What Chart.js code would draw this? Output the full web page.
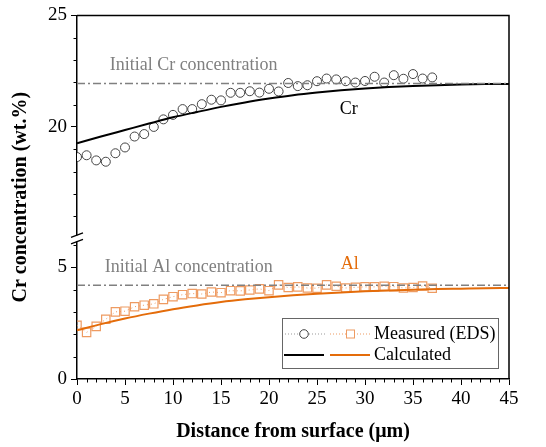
<!DOCTYPE html>
<html><head><meta charset="utf-8">
<script src="https://cdn.jsdelivr.net/npm/chart.js@4"></script>
<style>html,body{margin:0;padding:0;background:#fff}</style>
</head><body>
<canvas id="c" width="546" height="447" style="width:546px;height:447px;display:block"></canvas>
<script>
// ---- data ----
const distance = [0,1,2,3,4,5,6,7,8,9,10,11,12,13,14,15,16,17,18,19,20,21,22,23,24,25,26,27,28,29,30,31,32,33,34,35,36,37];
const crMeasured = [18.65,18.73,18.50,18.44,18.82,19.08,19.57,19.68,20.00,20.34,20.54,20.80,20.80,21.02,21.22,21.19,21.53,21.53,21.60,21.54,21.71,21.59,21.97,21.83,21.87,22.05,22.17,22.13,22.05,21.99,22.06,22.25,21.99,22.32,22.16,22.37,22.17,22.22];
const alMeasured = [2.41,2.09,2.36,2.68,3.01,3.04,3.24,3.31,3.37,3.57,3.69,3.78,3.83,3.81,3.90,3.87,3.96,3.95,3.99,4.04,3.96,4.22,4.10,4.13,4.08,4.07,4.22,4.16,4.08,4.11,4.13,4.13,4.16,4.14,4.08,4.10,4.17,4.07];
const calcDistance = [0,2.5,5,7.5,10,12.5,15,17.5,20,22.5,25,27.5,30,32.5,35,37.5,40,42.5,45];
const crCalculated = [19.27,19.57,19.86,20.15,20.43,20.67,20.90,21.10,21.27,21.42,21.54,21.64,21.72,21.79,21.84,21.87,21.90,21.92,21.93];
const alCalculated = [2.18,2.46,2.71,2.93,3.13,3.30,3.45,3.57,3.67,3.75,3.82,3.88,3.93,3.97,4.00,4.03,4.05,4.07,4.08];
const crInitial = 21.95;
const alInitial = 4.2;
const initialSpan = [0, 45];
const xTickLabels = [0,5,10,15,20,25,30,35,40,45];
const yTopTickLabels = [20,25];
const yBottomTickLabels = [0,5];
const legendLabels = ['Measured (EDS)', 'Calculated'];

// ---- styles ----
const FONT = "'Liberation Serif','Times New Roman',serif";
const ORANGE = '#E46C0A';
const ORANGE_LIGHT = '#EE9B62';
const GREY = '#808080';

const pts = (xs, ys) => xs.map((x, i) => ({x: x, y: ys[i]}));

const annotations = [
  {text: 'Initial Cr concentration', x: 3.4, y: 22.76, axis: 'yTop', color: GREY, align: 'left'},
  {text: 'Cr', x: 28.3, y: 20.8, axis: 'yTop', color: '#000', align: 'center'},
  {text: 'Initial Al concentration', x: 2.9, y: 5.0, axis: 'yBot', color: GREY, align: 'left'},
  {text: 'Al', x: 28.4, y: 5.13, axis: 'yBot', color: ORANGE, align: 'center'}
];

const decor = {
  id: 'decor',
  afterDraw(chart) {
    const ctx = chart.ctx;
    const a = chart.chartArea;
    const xs = chart.scales.x, yt = chart.scales.yTop, yb = chart.scales.yBot;
    ctx.save();
    // frame top/right
    ctx.strokeStyle = '#000'; ctx.lineWidth = 1.5;
    ctx.beginPath();
    ctx.moveTo(a.left, a.top); ctx.lineTo(a.right, a.top); ctx.lineTo(a.right, a.bottom);
    ctx.stroke();
    // minor ticks
    ctx.lineWidth = 1;
    ctx.beginPath();
    for (let v = 0; v <= 45; v++) {
      if (v % 5 === 0) continue;
      const px = Math.round(xs.getPixelForValue(v)) + 0.5;
      ctx.moveTo(px, a.bottom); ctx.lineTo(px, a.bottom + 3.5);
    }
    for (let v = 16; v < 25; v++) {
      if (v % 5 === 0) continue;
      const py = Math.round(yt.getPixelForValue(v)) + 0.5;
      ctx.moveTo(a.left - 3.5, py); ctx.lineTo(a.left, py);
    }
    for (let v = 1; v <= 6; v++) {
      if (v % 5 === 0) continue;
      const py = Math.round(yb.getPixelForValue(v)) + 0.5;
      ctx.moveTo(a.left - 3.5, py); ctx.lineTo(a.left, py);
    }
    ctx.stroke();
    // axis break
    const by = Math.min(yt.bottom, yb.bottom);
    ctx.fillStyle = '#fff';
    ctx.fillRect(a.left - 3, by - 3, 6, 6);
    ctx.strokeStyle = '#000'; ctx.lineWidth = 1.3;
    ctx.beginPath();
    ctx.moveTo(a.left - 6, by - 1); ctx.lineTo(a.left + 6, by - 5.5);
    ctx.moveTo(a.left - 6, by + 5.5); ctx.lineTo(a.left + 6, by + 1);
    ctx.stroke();
    // y title
    ctx.save();
    ctx.translate(21, (a.top + a.bottom) / 2);
    ctx.rotate(-Math.PI / 2);
    ctx.font = 'bold 20px ' + FONT;
    ctx.fillStyle = '#000'; ctx.textAlign = 'center'; ctx.textBaseline = 'middle';
    ctx.fillText('Cr concentration (wt.%)', 0, 0);
    ctx.restore();
    // annotations
    ctx.font = '18px ' + FONT; ctx.textBaseline = 'middle';
    annotations.forEach(t => {
      ctx.fillStyle = t.color; ctx.textAlign = t.align;
      ctx.fillText(t.text, xs.getPixelForValue(t.x), chart.scales[t.axis].getPixelForValue(t.y));
    });
    // legend
    const L = 282.5, T = 318.5, W = 216, H = 50;
    ctx.fillStyle = '#fff'; ctx.fillRect(L, T, W, H);
    ctx.strokeStyle = '#666'; ctx.lineWidth = 1; ctx.strokeRect(L, T, W, H);
    const r1 = 334, r2 = 355;
    ctx.lineWidth = 1;
    ctx.setLineDash([1, 2]);
    ctx.strokeStyle = '#999';
    ctx.beginPath(); ctx.moveTo(285, r1); ctx.lineTo(325, r1); ctx.stroke();
    ctx.strokeStyle = ORANGE_LIGHT;
    ctx.beginPath(); ctx.moveTo(330, r1); ctx.lineTo(371, r1); ctx.stroke();
    ctx.setLineDash([]);
    ctx.fillStyle = '#fff';
    ctx.strokeStyle = '#444';
    ctx.beginPath(); ctx.arc(304, r1, 4.3, 0, Math.PI * 2); ctx.fill(); ctx.stroke();
    ctx.strokeStyle = ORANGE_LIGHT;
    ctx.fillRect(346, r1 - 4, 8, 8); ctx.strokeRect(346.5, r1 - 4, 8, 8);
    ctx.lineWidth = 2;
    ctx.strokeStyle = '#000';
    ctx.beginPath(); ctx.moveTo(284, r2); ctx.lineTo(324, r2); ctx.stroke();
    ctx.strokeStyle = ORANGE;
    ctx.beginPath(); ctx.moveTo(330, r2); ctx.lineTo(370, r2); ctx.stroke();
    ctx.font = '18px ' + FONT; ctx.fillStyle = '#000'; ctx.textAlign = 'left'; ctx.textBaseline = 'middle';
    ctx.fillText(legendLabels[0], 374, r1);
    ctx.fillText(legendLabels[1], 374, r2);
    ctx.restore();
  }
};

const fixTicks = list => s => { s.ticks = list.map(v => ({value: v})); };

new Chart(document.getElementById('c'), {
  type: 'line',
  data: {
    datasets: [
      {data: pts(initialSpan, [crInitial, crInitial]), yAxisID: 'yTop', borderColor: GREY, borderWidth: 1.5, borderDash: [8, 3, 2, 3], pointRadius: 0},
      {data: pts(initialSpan, [alInitial, alInitial]), yAxisID: 'yBot', borderColor: GREY, borderWidth: 1.5, borderDash: [8, 3, 2, 3], pointRadius: 0},
      {data: pts(calcDistance, crCalculated), yAxisID: 'yTop', borderColor: '#000', borderWidth: 2, pointRadius: 0, cubicInterpolationMode: 'monotone'},
      {data: pts(calcDistance, alCalculated), yAxisID: 'yBot', borderColor: ORANGE, borderWidth: 2, pointRadius: 0, cubicInterpolationMode: 'monotone'},
      {data: pts(distance, crMeasured), yAxisID: 'yTop', showLine: true, borderColor: '#aaa', borderWidth: 1, borderDash: [1, 2],
       pointStyle: 'circle', pointRadius: 4.5, pointBorderColor: '#444', pointBackgroundColor: '#fff', pointBorderWidth: 1},
      {data: pts(distance, alMeasured), yAxisID: 'yBot', showLine: true, borderColor: ORANGE_LIGHT, borderWidth: 1, borderDash: [1, 3],
       pointStyle: 'rect', pointRadius: 5.9, pointBorderColor: ORANGE_LIGHT, pointBackgroundColor: 'rgba(255,255,255,0)', pointBorderWidth: 1.2}
    ]
  },
  options: {
    responsive: false,
    animation: false,
    devicePixelRatio: 1,
    layout: {padding: {top: 15, right: 37, left: 0, bottom: 0}},
    plugins: {legend: {display: false}, tooltip: {enabled: false}},
    scales: {
      x: {
        type: 'linear', min: 0, max: 45,
        afterBuildTicks: fixTicks(xTickLabels),
        afterFit: s => { s.height = 68; },
        ticks: {stepSize: 5, autoSkip: false, includeBounds: false, color: '#000', font: {family: FONT, size: 19}, padding: 3, maxRotation: 0},
        grid: {drawOnChartArea: false, drawTicks: true, tickLength: 6, color: '#000', tickWidth: 1},
        border: {color: '#000', width: 1.5},
        title: {display: true, text: 'Distance from surface (\u03bcm)', color: '#000', font: {family: FONT, size: 20, weight: 'bold'}, padding: {top: 3, bottom: 3}}
      },
      yBot: {
        type: 'linear', position: 'left', stack: 'y', stackWeight: 6.3, min: 0, max: 6.3,
        afterBuildTicks: fixTicks(yBottomTickLabels),
        afterFit: s => { s.width = 77; },
        ticks: {stepSize: 5, autoSkip: false, includeBounds: false, color: '#000', font: {family: FONT, size: 19}, padding: 4},
        grid: {drawOnChartArea: false, drawTicks: true, tickLength: 6, color: '#000', tickWidth: 1},
        border: {color: '#000', width: 1.5}
      },
      yTop: {
        type: 'linear', position: 'left', stack: 'y', stackWeight: 10, min: 15, max: 25,
        afterBuildTicks: fixTicks(yTopTickLabels),
        afterFit: s => { s.width = 77; },
        ticks: {stepSize: 5, autoSkip: false, includeBounds: false, color: '#000', font: {family: FONT, size: 19}, padding: 4},
        grid: {drawOnChartArea: false, drawTicks: true, tickLength: 6, color: '#000', tickWidth: 1},
        border: {color: '#000', width: 1.5}
      }
    }
  },
  plugins: [decor]
});
</script>
</body></html>
